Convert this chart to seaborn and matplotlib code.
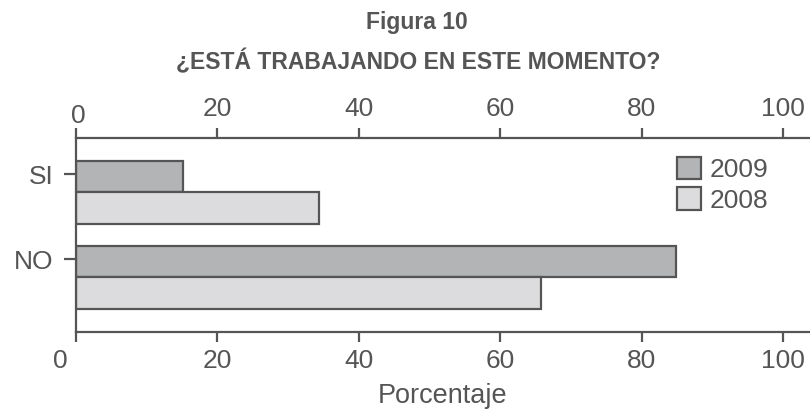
import matplotlib
matplotlib.use("Agg")
import matplotlib.pyplot as plt
import matplotlib.transforms as mtransforms
import seaborn as sns
import pandas as pd

# data
categories = ["SI", "NO"]
years = ["2009", "2008"]
pct_2009 = [15.1, 84.9]
pct_2008 = [34.3, 65.8]
xticks = [0, 20, 40, 60, 80, 100]

df = pd.DataFrame({
    "respuesta": categories * 2,
    "anio": [years[0]] * 2 + [years[1]] * 2,
    "pct": pct_2009 + pct_2008,
})

grey = "#555555"
sns.set_style("white")
plt.rcParams["font.family"] = ["Liberation Sans", "DejaVu Sans"]
plt.rcParams["text.color"] = grey
plt.rcParams["axes.labelcolor"] = grey
plt.rcParams["xtick.color"] = grey
plt.rcParams["ytick.color"] = grey

fig = plt.figure(figsize=(8.1, 4.09), dpi=100)
ax = fig.add_axes([0.0938, 0.1883, 1.0 - 0.0938, 0.6626 - 0.1883])

bar_w = 0.73
sns.barplot(data=df, y="respuesta", x="pct", hue="anio", hue_order=years,
            order=categories, orient="h", width=bar_w,
            palette={"2009": "#b3b4b6", "2008": "#dcdcde"},
            edgecolor=grey, linewidth=1.6, ax=ax)

ax.set_xlim(0, 103.8)
ax.set_ylim(1.641, -0.641)
ax.set_xticks(xticks)
ax.set_xticklabels([str(t) for t in xticks])
# category ticks sit on the 2009 bar
ax.set_yticks([i - bar_w / 4 - 0.03 for i in range(len(categories))])
ax.set_yticklabels(categories)

for side in ["left", "top", "bottom"]:
    ax.spines[side].set_visible(True)
    ax.spines[side].set_color(grey)
    ax.spines[side].set_linewidth(1.6)
ax.spines["right"].set_visible(False)

ax.tick_params(axis="x", top=True, labeltop=True, bottom=True, labelbottom=True,
               direction="out", length=7.5, width=1.6, labelsize=19, pad=5)
ax.tick_params(axis="y", left=True, direction="out", length=9, width=1.6,
               labelsize=19, pad=7)

ax.set_xlabel("Porcentaje", fontsize=19.5, labelpad=7)
ax.set_ylabel("")

# the "0" labels are nudged off their ticks in the original
tick0 = ax.xaxis.get_major_ticks()[0]
tick0.label1.set_transform(tick0.label1.get_transform() +
                           mtransforms.ScaledTranslation(-16 / 100, 0, fig.dpi_scale_trans))
tick0.label2.set_transform(tick0.label2.get_transform() +
                           mtransforms.ScaledTranslation(2 / 100, -7 / 100, fig.dpi_scale_trans))

handles, labels = ax.get_legend_handles_labels()
ax.legend(handles, labels, loc="upper left", bbox_to_anchor=(677 / 810, 1 - 157 / 409),
          bbox_transform=fig.transFigure, frameon=False, fontsize=19,
          handlelength=0.92, handleheight=0.92, handletextpad=0.3,
          labelspacing=0.2, borderpad=0, borderaxespad=0)

fig.text(417 / 810, 1 - 22 / 409, "Figura 10", ha="center", va="center",
         fontsize=16.5, fontweight="bold")
fig.text(418 / 810, 1 - 62 / 409, "¿ESTÁ TRABAJANDO EN ESTE MOMENTO?", ha="center",
         va="center", fontsize=16.5, fontweight="bold")

fig.savefig("out.png", dpi=100)
